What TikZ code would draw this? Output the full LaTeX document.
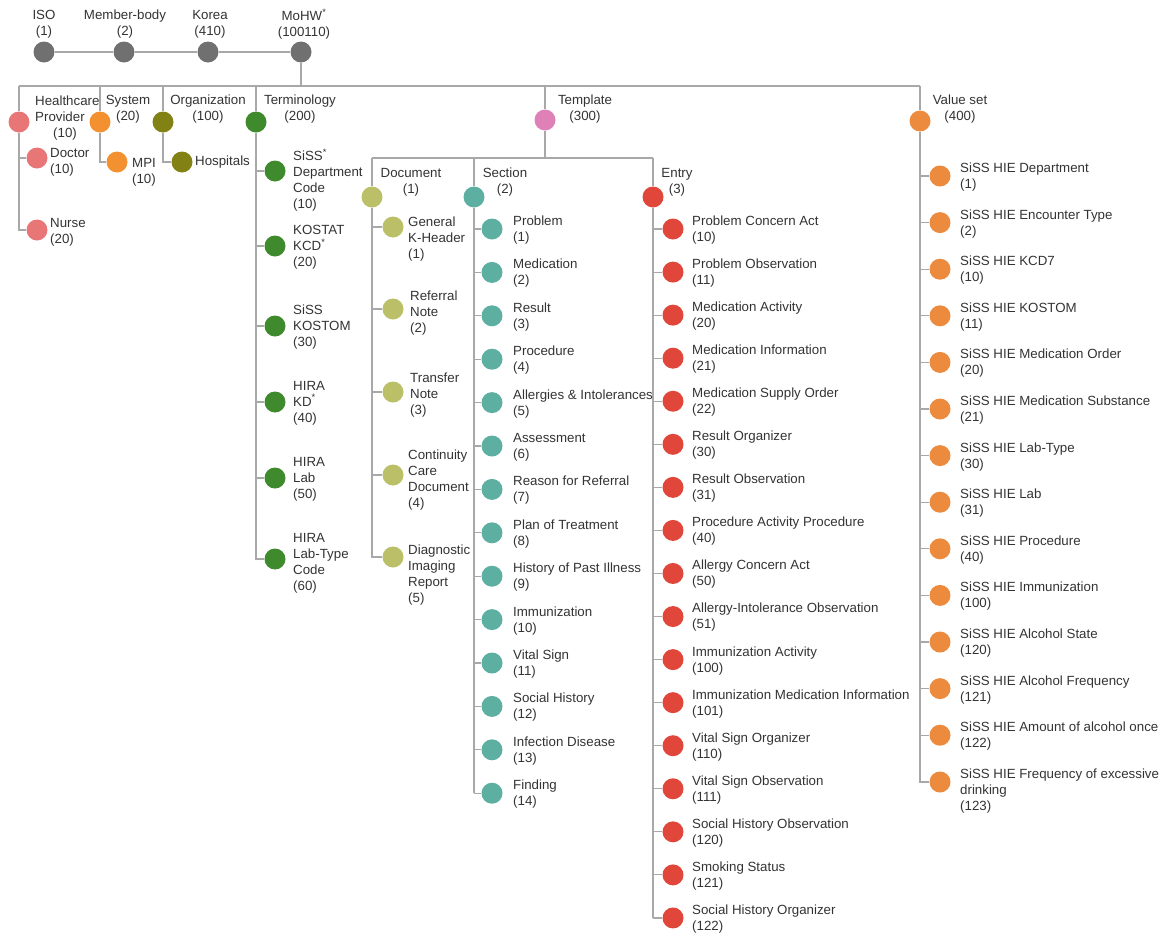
\documentclass[tikz,border=0pt]{standalone}
\usepackage{fontspec}
\setmainfont{Liberation Sans}
\definecolor{txt}{HTML}{333333}
\definecolor{lin}{HTML}{A8A8A8}
\definecolor{cgray}{HTML}{707070}
\definecolor{chp}{HTML}{E97676}
\definecolor{csys}{HTML}{F39030}
\definecolor{corg}{HTML}{818114}
\definecolor{cterm}{HTML}{3F8A2C}
\definecolor{ctmpl}{HTML}{DF80B6}
\definecolor{cdoc}{HTML}{BABF68}
\definecolor{csec}{HTML}{5DAFA2}
\definecolor{cent}{HTML}{E0463A}
\definecolor{cvs}{HTML}{EC8A3E}
\tikzset{
  dot/.style={circle, minimum size=21pt, inner sep=0pt, draw=none},
  lbl/.style={anchor=west, inner sep=0pt, align=left, text=txt, font=\fontsize{13.3}{16}\selectfont},
  lblc/.style={anchor=center, inner sep=0pt, align=center, text=txt, font=\fontsize{13.3}{16}\selectfont},
  conn/.style={draw=lin, line width=1.1pt},
}
\newcommand{\myast}{\textsuperscript{*}}
\begin{document}
\begin{tikzpicture}[x=1pt, y=-1pt]
\useasboundingbox (0,0) rectangle (1165,935);
% ---------- top row ----------
\node[dot, fill=cgray] (iso) at (44,52) {};
\node[dot, fill=cgray] (mb) at (124,52) {};
\node[dot, fill=cgray] (kor) at (208,52) {};
\node[dot, fill=cgray] (mohw) at (301,52) {};
\node[lblc] (isol) at (44,24) {ISO\\(1)};
\node[lblc] (mbl) at (125,24) {Member-body\\(2)};
\node[lblc] (korl) at (210,24) {Korea\\(410)};
\node[lblc] (mohwl) at (304,24) {MoHW\myast\\(100110)};
\draw[conn] (iso) -- (mb);
\draw[conn] (mb) -- (kor);
\draw[conn] (kor) -- (mohw);
% ---------- level 1 ----------
\coordinate (busL) at (19,86);
\coordinate (busR) at (920,86);
\node[dot, fill=chp] (hp) at (19,122) {};
\node[dot, fill=csys] (sys) at (100,122) {};
\node[dot, fill=corg] (org) at (163,122) {};
\node[dot, fill=cterm] (term) at (256,122) {};
\node[dot, fill=ctmpl] (tmpl) at (545,120) {};
\node[dot, fill=cvs] (vs) at (920,121) {};
\node[lbl] (hpl) at (35,118) {Healthcare\\Provider\\\hspace*{18pt}(10)};
\node[lblc] (sysl) at (128,109) {System\\(20)};
\node[lblc] (orgl) at (208,109) {Organization\\(100)};
\node[lblc] (terml) at (300,109) {Terminology\\(200)};
\node[lblc] (tmpll) at (585,109) {Template\\(300)};
\node[lblc] (vsl) at (960,109) {Value set\\(400)};
\draw[conn] (mohw) -- (mohw |- busL);
\draw[conn] (busL) -- (busR);
\draw[conn] (busL) -- (hp);
\draw[conn] (sys |- busL) -- (sys);
\draw[conn] (org |- busL) -- (org);
\draw[conn] (term |- busL) -- (term);
\draw[conn] (tmpl |- busL) -- (tmpl);
\draw[conn] (busR) -- (vs);
% ---------- healthcare provider ----------
\node[dot, fill=chp] (doc1) at (37,158) {};
\node[dot, fill=chp] (nurse) at (37,230) {};
\node[lbl] (doc1l) at (50,162) {Doctor\\(10)};
\node[lbl] (nursel) at (50,232) {Nurse\\(20)};
\draw[conn] (hp) -- (hp |- nurse) -- (nurse);
\draw[conn] (hp |- doc1) -- (doc1);
% ---------- system ----------
\node[dot, fill=csys] (mpi) at (117,162) {};
\node[lblc] (mpil) at (144,172) {MPI\\(10)};
\draw[conn] (sys) -- (sys |- mpi) -- (mpi);
% ---------- organization ----------
\node[dot, fill=corg] (hosp) at (182,162) {};
\node[lbl] (hospl) at (195,162) {Hospitals};
\draw[conn] (org) -- (org |- hosp) -- (hosp);
% ---------- terminology ----------
\node[dot, fill=cterm] (t1) at (275,171) {};
\node[dot, fill=cterm] (t2) at (275,246) {};
\node[dot, fill=cterm] (t3) at (275,326) {};
\node[dot, fill=cterm] (t4) at (275,402) {};
\node[dot, fill=cterm] (t5) at (275,478) {};
\node[dot, fill=cterm] (t6) at (275,559) {};
\node[lbl] (t1l) at (293,180) {SiSS\myast\\Department\\Code\\(10)};
\node[lbl] (t2l) at (293,247) {KOSTAT\\KCD\myast\\(20)};
\node[lbl] (t3l) at (293,327) {SiSS\\KOSTOM\\(30)};
\node[lbl] (t4l) at (293,403) {HIRA\\KD\myast\\(40)};
\node[lbl] (t5l) at (293,479) {HIRA\\Lab\\(50)};
\node[lbl] (t6l) at (293,563) {HIRA\\Lab-Type\\Code\\(60)};
\draw[conn] (term) -- (term |- t6) -- (t6);
\foreach \k in {1,...,5} { \draw[conn] (term |- t\k) -- (t\k); }
% ---------- template ----------
\coordinate (tbl) at (372,158);
\coordinate (tbr) at (653,158);
\draw[conn] (tmpl) -- (tmpl |- tbl);
\draw[conn] (tbl) -- (tbr);
\node[dot, fill=cdoc] (docu) at (372,197) {};
\node[dot, fill=csec] (sec) at (474,197) {};
\node[dot, fill=cent] (ent) at (653,197) {};
\node[lblc] (docul) at (411,182) {Document\\(1)};
\node[lblc] (secl) at (505,182) {Section\\(2)};
\node[lblc] (entl) at (677,182) {Entry\\(3)};
\draw[conn] (tbl) -- (docu);
\draw[conn] (sec |- tbl) -- (sec);
\draw[conn] (tbr) -- (ent);
% document children
\node[dot, fill=cdoc] (d1) at (393,227) {};
\node[dot, fill=cdoc] (d2) at (393,309) {};
\node[dot, fill=cdoc] (d3) at (393,392) {};
\node[dot, fill=cdoc] (d4) at (393,475) {};
\node[dot, fill=cdoc] (d5) at (393,557) {};
\node[lbl] (d1l) at (408,239) {General\\K-Header\\(1)};
\node[lbl] (d2l) at (410,313) {Referral\\Note\\(2)};
\node[lbl] (d3l) at (410,395) {Transfer\\Note\\(3)};
\node[lbl] (d4l) at (408,480) {Continuity\\Care\\Document\\(4)};
\node[lbl] (d5l) at (408,575) {Diagnostic\\Imaging\\Report\\(5)};
\draw[conn] (docu) -- (docu |- d5) -- (d5);
\foreach \k in {1,...,4} { \draw[conn] (docu |- d\k) -- (d\k); }
% section children
\foreach \t/\n [count=\i from 0] in {Problem/1, Medication/2, Result/3, Procedure/4, Allergies \& Intolerances/5, Assessment/6, Reason for Referral/7, Plan of Treatment/8, History of Past Illness/9, Immunization/10, Vital Sign/11, Social History/12, Infection Disease/13, Finding/14} {
  \node[dot, fill=csec] (s\i) at (492,{229+\i*43.4}) {};
  \node[lbl] (sl\i) at (513,{230+\i*43.4}) {\t\\(\n)};
  \draw[conn] (sec |- s\i) -- (s\i);
}
\draw[conn] (sec) -- (sec |- s13);
% entry children
\foreach \t/\n [count=\i from 0] in {Problem Concern Act/10, Problem Observation/11, Medication Activity/20, Medication Information/21, Medication Supply Order/22, Result Organizer/30, Result Observation/31, Procedure Activity Procedure/40, Allergy Concern Act/50, Allergy-Intolerance Observation/51, Immunization Activity/100, Immunization Medication Information/101, Vital Sign Organizer/110, Vital Sign Observation/111, Social History Observation/120, Smoking Status/121, Social History Organizer/122} {
  \node[dot, fill=cent] (e\i) at (673,{229+\i*43.06}) {};
  \node[lbl] (el\i) at (692,{230+\i*43.06}) {\t\\(\n)};
  \draw[conn] (ent |- e\i) -- (e\i);
}
\draw[conn] (ent) -- (ent |- e16);
% ---------- value set ----------
\foreach \t/\n [count=\i from 0] in {SiSS HIE Department/1, SiSS HIE Encounter Type/2, SiSS HIE KCD7/10, SiSS HIE KOSTOM/11, SiSS HIE Medication Order/20, SiSS HIE Medication Substance/21, SiSS HIE Lab-Type/30, SiSS HIE Lab/31, SiSS HIE Procedure/40, SiSS HIE Immunization/100, SiSS HIE Alcohol State/120, SiSS HIE Alcohol Frequency/121, SiSS HIE Amount of alcohol once/122} {
  \node[dot, fill=cvs] (v\i) at (940,{176+\i*46.6}) {};
  \node[lbl] (vl\i) at (960,{177+\i*46.6}) {\t\\(\n)};
  \draw[conn] (vs |- v\i) -- (v\i);
}
\node[dot, fill=cvs] (v13) at (940,782) {};
\node[lbl] (vl13) at (960,791) {SiSS HIE Frequency of excessive\\drinking\\(123)};
\draw[conn] (vs) -- (vs |- v13) -- (v13);
\end{tikzpicture}
\end{document}
